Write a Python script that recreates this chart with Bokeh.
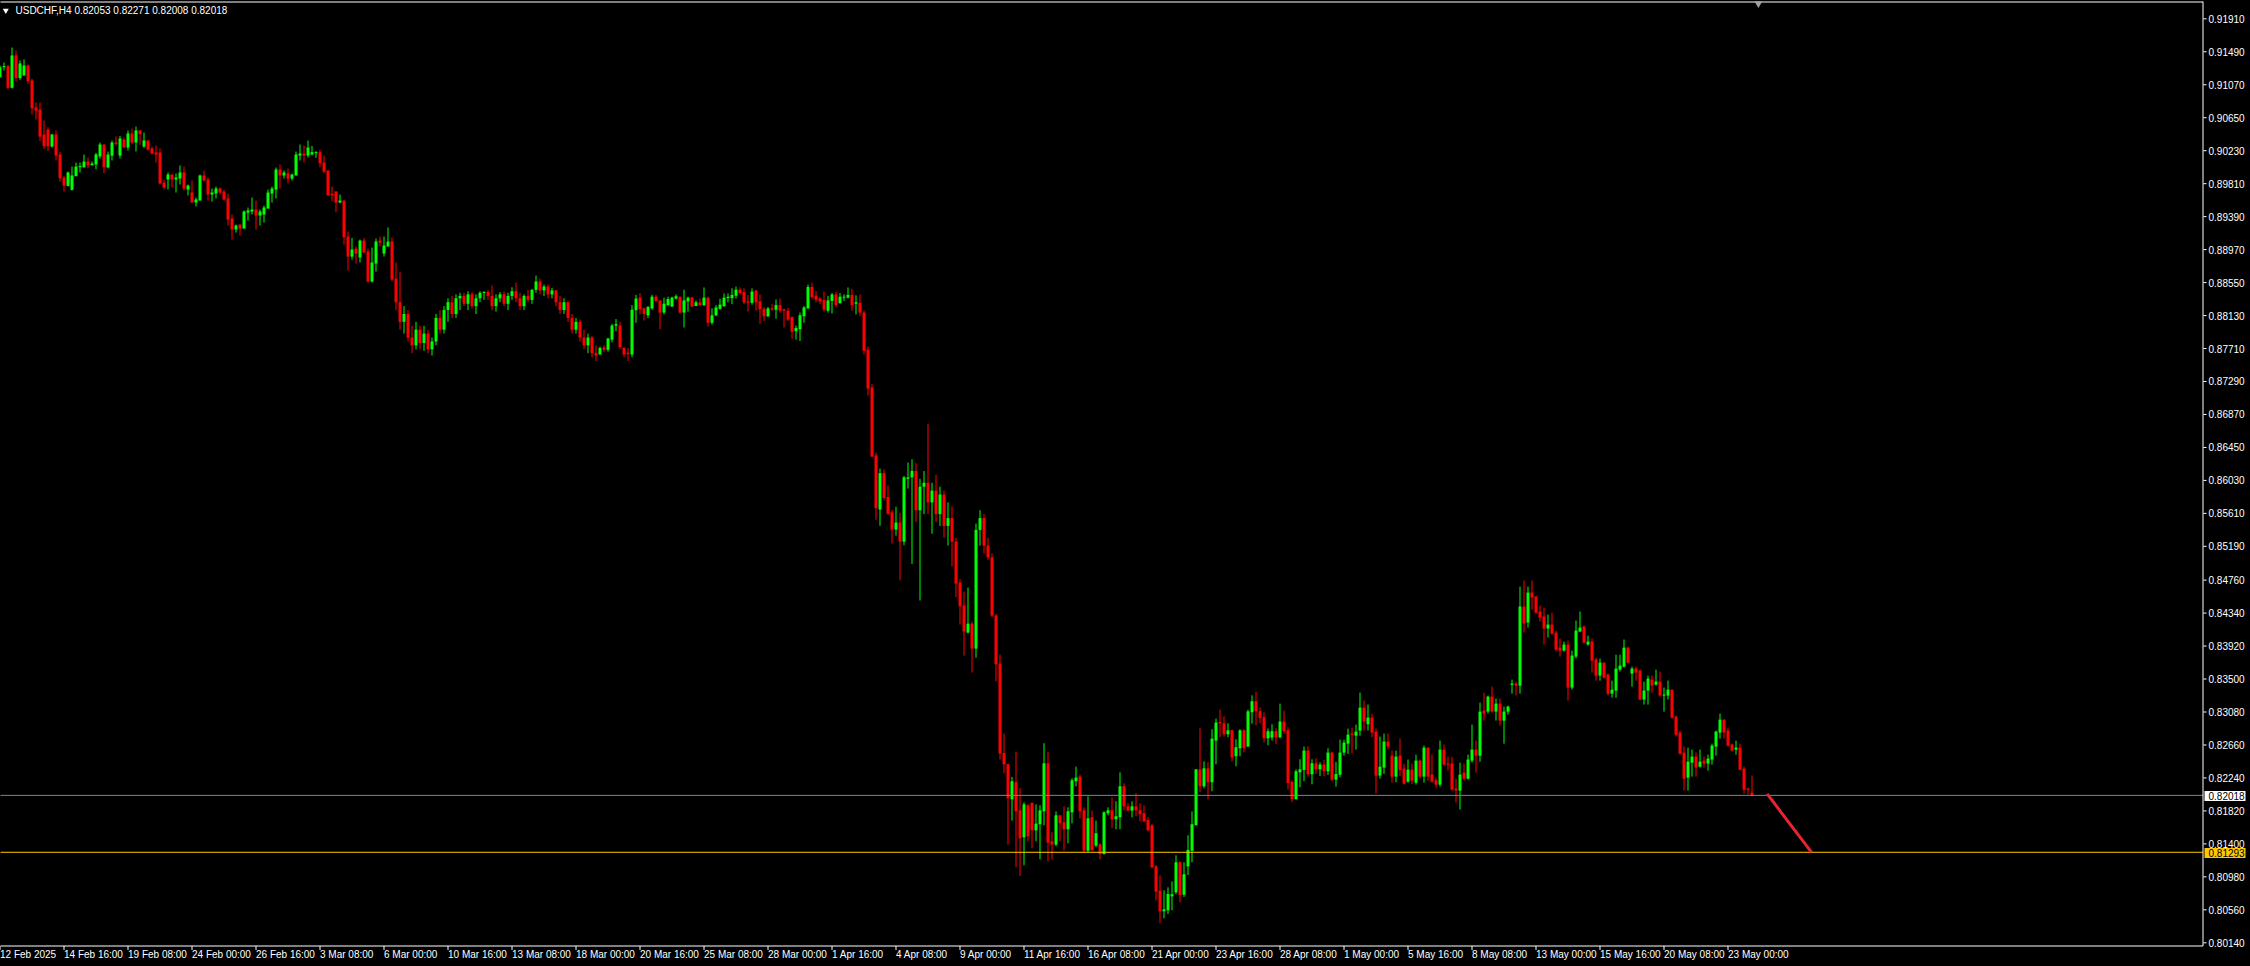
import numpy as np
from bokeh.plotting import figure
from bokeh.models import ColumnDataSource
from bokeh.embed import file_html
from bokeh.resources import INLINE
from bokeh.core.properties import value

symbol = "USDCHF,H4"

opens = [
0.91166,0.91294,0.91307,0.91031,0.91443,0.91154,0.91188,0.91315,0.91124,0.90780,
0.90754,0.90436,0.90500,0.90283,0.90436,0.90181,0.89888,0.89782,0.89731,0.89905,
0.90020,0.90020,0.90092,0.90045,0.90054,0.90156,0.90309,0.90016,0.90168,0.90334,
0.90168,0.90372,0.90270,0.90449,0.90334,0.90487,0.90283,0.90360,0.90258,0.90207,
0.90207,0.89824,0.89863,0.89926,0.89863,0.89875,0.89952,0.89735,0.89697,0.89570,
0.89595,0.89914,0.89863,0.89672,0.89684,0.89748,0.89710,0.89621,0.89366,0.89226,
0.89289,0.89238,0.89442,0.89455,0.89480,0.89404,0.89417,0.89493,0.89684,0.89735,
0.89990,0.89914,0.89939,0.89875,0.89914,0.90168,0.90194,0.90168,0.90181,0.90198,
0.90211,0.90079,0.89977,0.89680,0.89710,0.89570,0.89595,0.89136,0.88881,0.88983,
0.88869,0.89085,0.88945,0.88563,0.88792,0.89085,0.88920,0.89009,0.89073,0.88600,
0.88300,0.88050,0.88150,0.87850,0.87750,0.87950,0.87780,0.87900,0.87700,0.87800,
0.88100,0.87950,0.88200,0.88300,0.88150,0.88350,0.88380,0.88280,0.88400,0.88250,
0.88350,0.88420,0.88430,0.88380,0.88250,0.88350,0.88400,0.88280,0.88380,0.88440,
0.88350,0.88250,0.88380,0.88330,0.88457,0.88563,0.88450,0.88499,0.88400,0.88450,
0.88300,0.88200,0.88300,0.88100,0.87950,0.88050,0.87850,0.87750,0.87850,0.87650,
0.87634,0.87723,0.87694,0.87824,0.88002,0.88002,0.87717,0.87658,0.87634,0.88198,
0.88358,0.88221,0.88133,0.88221,0.88370,0.88322,0.88168,0.88263,0.88245,0.88346,
0.88370,0.88168,0.88310,0.88358,0.88251,0.88299,0.88263,0.88358,0.88038,0.88133,
0.88216,0.88251,0.88352,0.88352,0.88382,0.88459,0.88429,0.88310,0.88293,0.88447,
0.88310,0.88216,0.88121,0.88221,0.88204,0.88263,0.88210,0.88192,0.88109,0.87931,
0.87955,0.88121,0.88221,0.88494,0.88382,0.88346,0.88328,0.88192,0.88316,0.88399,
0.88287,0.88358,0.88358,0.88393,0.88281,0.88293,0.88168,0.87694,0.87213,0.86347,
0.85659,0.86122,0.85819,0.85624,0.85404,0.85493,0.85250,0.86051,0.86069,0.86150,
0.85650,0.85950,0.86000,0.85750,0.85900,0.85600,0.85850,0.85450,0.85550,0.85250,
0.84729,0.84436,0.84092,0.84206,0.83888,0.85400,0.85550,0.85200,0.85050,0.84308,
0.83697,0.82558,0.82414,0.81968,0.82185,0.81828,0.81484,0.81892,0.81921,0.81573,
0.81650,0.81815,0.82427,0.81433,0.81391,0.81764,0.81675,0.81586,0.81802,0.82198,
0.82257,0.81828,0.81314,0.81739,0.81378,0.81391,0.81272,0.81790,0.81828,0.81713,
0.81739,0.82134,0.81879,0.81824,0.81879,0.81828,0.81790,0.81705,0.81637,0.81114,
0.80805,0.80541,0.80554,0.80732,0.80783,0.81166,0.80753,0.81114,0.81314,0.81637,
0.82350,0.82134,0.82363,0.82185,0.82716,0.82953,0.82936,0.82796,0.82847,0.82516,
0.82618,0.82847,0.82639,0.83077,0.83217,0.83089,0.83013,0.82745,0.82754,0.82835,
0.82758,0.82958,0.82847,0.82189,0.81968,0.82312,0.82342,0.82588,0.82287,0.82427,
0.82350,0.82410,0.82325,0.82563,0.82219,0.82282,0.82563,0.82677,0.82805,0.82779,
0.82843,0.83136,0.82924,0.83009,0.82830,0.82270,0.82372,0.82703,0.82524,0.82257,
0.82524,0.82359,0.82193,0.82346,0.82180,0.82461,0.82257,0.82626,0.82282,0.82210,
0.82155,0.82601,0.82423,0.82423,0.82104,0.82079,0.82308,0.82231,0.82461,0.82601,
0.82524,0.83098,0.83085,0.83276,0.83085,0.83187,0.82970,0.83085,0.83425,0.83442,
0.83416,0.84423,0.84219,0.84601,0.84550,0.84359,0.84296,0.84143,0.84194,0.84092,
0.83900,0.83862,0.83939,0.83391,0.83786,0.84104,0.84168,0.83939,0.83977,0.83748,
0.83544,0.83709,0.83557,0.83314,0.83353,0.83620,0.83658,0.83900,0.83569,0.83633,
0.83608,0.83238,0.83353,0.83493,0.83429,0.83467,0.83289,0.83289,0.83365,0.83021,
0.82818,0.82563,0.82244,0.82435,0.82512,0.82384,0.82461,0.82423,0.82474,0.82639,
0.82818,0.82983,0.82843,0.82665,0.82601,0.82626,0.82359,0.82104,0.82053]

highs = [
0.91315,0.91353,0.91324,0.91544,0.91506,0.91379,0.91392,0.91328,0.91145,0.90844,
0.90844,0.90614,0.90529,0.90444,0.90487,0.90215,0.89909,0.89965,0.90028,0.90079,
0.90079,0.90181,0.90143,0.90092,0.90202,0.90334,0.90309,0.90219,0.90360,0.90410,
0.90419,0.90398,0.90487,0.90512,0.90538,0.90495,0.90461,0.90360,0.90283,0.90296,
0.90258,0.89863,0.89952,0.89926,0.89939,0.90041,0.90028,0.89799,0.89850,0.89633,
0.89926,0.89977,0.89888,0.89748,0.89773,0.89761,0.89735,0.89684,0.89417,0.89289,
0.89289,0.89468,0.89506,0.89633,0.89595,0.89480,0.89531,0.89735,0.89773,0.90016,
0.90054,0.89977,0.90003,0.89939,0.90219,0.90309,0.90296,0.90360,0.90290,0.90224,
0.90240,0.90168,0.89977,0.89773,0.89710,0.89671,0.89595,0.89200,0.89119,0.89009,
0.89098,0.89119,0.88983,0.88996,0.89111,0.89136,0.89136,0.89251,0.89124,0.88805,
0.88690,0.88250,0.88200,0.88000,0.88050,0.88000,0.88000,0.87950,0.87850,0.88150,
0.88200,0.88250,0.88350,0.88380,0.88400,0.88420,0.88420,0.88440,0.88430,0.88400,
0.88440,0.88440,0.88457,0.88512,0.88400,0.88430,0.88440,0.88420,0.88491,0.88550,
0.88420,0.88400,0.88457,0.88470,0.88639,0.88601,0.88525,0.88525,0.88480,0.88457,
0.88380,0.88350,0.88320,0.88150,0.88100,0.88080,0.87950,0.87900,0.87870,0.87750,
0.87735,0.87753,0.87848,0.88026,0.88085,0.88049,0.87729,0.87717,0.88263,0.88393,
0.88417,0.88233,0.88251,0.88393,0.88393,0.88322,0.88358,0.88370,0.88370,0.88399,
0.88370,0.88459,0.88370,0.88370,0.88322,0.88346,0.88488,0.88370,0.88221,0.88263,
0.88346,0.88411,0.88411,0.88477,0.88500,0.88488,0.88477,0.88393,0.88477,0.88459,
0.88399,0.88239,0.88239,0.88275,0.88334,0.88346,0.88216,0.88227,0.88121,0.88002,
0.88168,0.88251,0.88524,0.88548,0.88441,0.88364,0.88435,0.88382,0.88417,0.88429,
0.88417,0.88399,0.88488,0.88471,0.88387,0.88399,0.88192,0.87735,0.87261,0.86383,
0.86181,0.86169,0.85968,0.85653,0.85695,0.85618,0.86086,0.86258,0.86300,0.86250,
0.86050,0.86150,0.86750,0.86000,0.86100,0.85950,0.85900,0.85750,0.85700,0.85300,
0.84775,0.84614,0.84665,0.84232,0.85480,0.85650,0.85600,0.85300,0.85100,0.84329,
0.83811,0.82805,0.82423,0.82253,0.82576,0.82113,0.81930,0.81904,0.81930,0.81904,
0.81892,0.82682,0.82576,0.81548,0.81815,0.81764,0.81879,0.81866,0.82236,0.82384,
0.82282,0.81866,0.82006,0.81824,0.81696,0.81408,0.81815,0.81866,0.81994,0.81943,
0.82312,0.82172,0.81917,0.81943,0.82045,0.81917,0.81892,0.81739,0.81654,0.81131,
0.80999,0.80809,0.80847,0.80923,0.81255,0.81178,0.81166,0.81510,0.81815,0.82350,
0.82873,0.82452,0.82440,0.82860,0.82996,0.83111,0.83026,0.82936,0.82856,0.82733,
0.82860,0.82860,0.83111,0.83293,0.83340,0.83140,0.83077,0.82869,0.82924,0.82873,
0.83187,0.83098,0.82886,0.82210,0.82350,0.82478,0.82639,0.82643,0.82478,0.82490,
0.82440,0.82469,0.82618,0.82576,0.82444,0.82728,0.82728,0.82869,0.82881,0.82919,
0.83327,0.83225,0.83174,0.83060,0.82869,0.82767,0.82805,0.82805,0.82588,0.82588,
0.82741,0.82418,0.82474,0.82423,0.82537,0.82474,0.82652,0.82626,0.82537,0.82244,
0.82716,0.82665,0.82512,0.82512,0.82231,0.82435,0.82423,0.82537,0.82919,0.82716,
0.83200,0.83327,0.83289,0.83404,0.83251,0.83251,0.83149,0.83162,0.83493,0.83467,
0.84678,0.84754,0.84678,0.84754,0.84563,0.84436,0.84410,0.84321,0.84346,0.84117,
0.84015,0.83977,0.83990,0.83862,0.84245,0.84359,0.84181,0.84053,0.84015,0.83773,
0.83760,0.83709,0.83569,0.83480,0.83811,0.83811,0.84003,0.83913,0.83658,0.83658,
0.83620,0.83467,0.83544,0.83544,0.83620,0.83595,0.83391,0.83480,0.83365,0.83034,
0.82843,0.82639,0.82626,0.82601,0.82563,0.82601,0.82512,0.82537,0.82677,0.82843,
0.83060,0.82983,0.82881,0.82677,0.82716,0.82677,0.82384,0.82117,0.82271]

lows = [
0.91166,0.91251,0.91009,0.91022,0.91116,0.91132,0.91188,0.91082,0.90691,0.90627,
0.90351,0.90253,0.90224,0.90270,0.90105,0.89837,0.89710,0.89773,0.89722,0.89905,
0.89952,0.90011,0.90007,0.90041,0.89994,0.90130,0.89943,0.90003,0.90105,0.90296,
0.90130,0.90266,0.90232,0.90317,0.90219,0.90304,0.90266,0.90232,0.90181,0.90079,
0.89799,0.89735,0.89735,0.89761,0.89697,0.89799,0.89722,0.89659,0.89570,0.89519,
0.89595,0.89837,0.89595,0.89582,0.89621,0.89672,0.89595,0.89277,0.89098,0.89187,
0.89149,0.89238,0.89340,0.89417,0.89226,0.89277,0.89315,0.89493,0.89570,0.89621,
0.89748,0.89875,0.89812,0.89850,0.89914,0.90105,0.90079,0.90143,0.90170,0.90139,
0.90020,0.89943,0.89659,0.89587,0.89446,0.89561,0.89034,0.88703,0.88843,0.88792,
0.88805,0.88932,0.88550,0.88550,0.88690,0.89009,0.88881,0.89009,0.88563,0.88200,
0.87950,0.87900,0.87800,0.87650,0.87700,0.87700,0.87680,0.87650,0.87620,0.87750,
0.87900,0.87900,0.88050,0.88100,0.88100,0.88200,0.88250,0.88200,0.88220,0.88150,
0.88300,0.88330,0.88330,0.88200,0.88180,0.88300,0.88250,0.88200,0.88330,0.88300,
0.88200,0.88200,0.88300,0.88280,0.88420,0.88400,0.88380,0.88350,0.88350,0.88250,
0.88150,0.88150,0.88050,0.87900,0.87900,0.87800,0.87700,0.87650,0.87600,0.87550,
0.87634,0.87664,0.87670,0.87789,0.87931,0.87705,0.87599,0.87551,0.87599,0.88038,
0.88144,0.88067,0.88097,0.88204,0.88299,0.87955,0.88144,0.88251,0.88239,0.88334,
0.88156,0.87978,0.88180,0.88239,0.88251,0.88251,0.88251,0.87990,0.88014,0.88121,
0.88204,0.88239,0.88299,0.88275,0.88346,0.88393,0.88275,0.88180,0.88269,0.88192,
0.88026,0.88061,0.88109,0.88192,0.88091,0.88168,0.87978,0.88061,0.87836,0.87824,
0.87806,0.88038,0.88216,0.88346,0.88299,0.88275,0.88180,0.88168,0.88156,0.88239,
0.88281,0.88316,0.88346,0.88192,0.88144,0.88121,0.87634,0.87112,0.86329,0.85529,
0.85452,0.85778,0.85588,0.85226,0.85327,0.84758,0.85203,0.85926,0.84967,0.85500,
0.84500,0.85600,0.85600,0.85350,0.85500,0.85450,0.85300,0.85200,0.84933,0.84542,
0.84194,0.83799,0.84079,0.83582,0.83773,0.85200,0.85100,0.85020,0.84290,0.83472,
0.82474,0.82299,0.81391,0.81696,0.81102,0.80991,0.81127,0.81433,0.81344,0.81433,
0.81204,0.81637,0.81178,0.81199,0.81369,0.81433,0.81318,0.81408,0.81662,0.82134,
0.81726,0.81293,0.81293,0.81314,0.81357,0.81204,0.81263,0.81764,0.81603,0.81586,
0.81586,0.81828,0.81815,0.81739,0.81752,0.81688,0.81675,0.81560,0.81089,0.80681,
0.80388,0.80452,0.80507,0.80554,0.80758,0.80656,0.80724,0.81004,0.81166,0.81637,
0.82057,0.82108,0.81968,0.82070,0.82414,0.82758,0.82767,0.82758,0.82452,0.82389,
0.82516,0.82567,0.82639,0.82932,0.82911,0.82936,0.82694,0.82656,0.82716,0.82669,
0.82745,0.82805,0.82096,0.81930,0.81968,0.82121,0.82198,0.82257,0.82159,0.82291,
0.82265,0.82261,0.82278,0.82198,0.82130,0.82248,0.82524,0.82546,0.82550,0.82601,
0.82779,0.82843,0.82843,0.82758,0.82040,0.82231,0.82291,0.82605,0.82180,0.82185,
0.82265,0.82155,0.82180,0.82163,0.82155,0.82231,0.82180,0.82206,0.82180,0.82117,
0.82130,0.82397,0.82333,0.82079,0.81926,0.81837,0.82206,0.82219,0.82435,0.82308,
0.82448,0.82970,0.83060,0.83072,0.82970,0.82907,0.82677,0.83047,0.83314,0.83289,
0.83314,0.84092,0.84155,0.84385,0.84334,0.84232,0.83939,0.84028,0.84066,0.83850,
0.83786,0.83850,0.83225,0.83365,0.83760,0.84104,0.83952,0.83926,0.83582,0.83480,
0.83480,0.83506,0.83289,0.83263,0.83263,0.83595,0.83646,0.83697,0.83404,0.83480,
0.83238,0.83174,0.83174,0.83327,0.83416,0.83276,0.83085,0.83238,0.82996,0.82767,
0.82537,0.82079,0.82079,0.82257,0.82257,0.82372,0.82372,0.82333,0.82410,0.82524,
0.82741,0.82741,0.82639,0.82576,0.82537,0.82346,0.82040,0.82028,0.82008]

closes = [
0.91294,0.91307,0.91031,0.91443,0.91154,0.91341,0.91315,0.91116,0.90771,0.90742,
0.90410,0.90287,0.90287,0.90436,0.90168,0.89880,0.89786,0.89952,0.89914,0.90028,
0.90033,0.90092,0.90041,0.90066,0.90181,0.90309,0.90020,0.90181,0.90334,0.90317,
0.90385,0.90270,0.90449,0.90334,0.90487,0.90440,0.90360,0.90245,0.90194,0.90181,
0.89812,0.89761,0.89926,0.89863,0.89888,0.89952,0.89748,0.89786,0.89570,0.89608,
0.89914,0.89850,0.89672,0.89697,0.89748,0.89697,0.89608,0.89353,0.89226,0.89277,
0.89238,0.89455,0.89468,0.89480,0.89404,0.89455,0.89506,0.89697,0.89748,0.89990,
0.89914,0.89952,0.89875,0.89926,0.90181,0.90194,0.90168,0.90270,0.90211,0.90211,
0.90071,0.89964,0.89659,0.89663,0.89570,0.89595,0.89128,0.88881,0.88971,0.88920,
0.89085,0.88932,0.88563,0.88805,0.89073,0.89060,0.89022,0.89073,0.88588,0.88300,
0.88050,0.88150,0.87850,0.87750,0.87950,0.87780,0.87900,0.87700,0.87800,0.88100,
0.87950,0.88200,0.88300,0.88150,0.88350,0.88380,0.88280,0.88400,0.88250,0.88350,
0.88420,0.88430,0.88380,0.88250,0.88350,0.88400,0.88280,0.88380,0.88440,0.88350,
0.88250,0.88380,0.88330,0.88457,0.88563,0.88450,0.88499,0.88400,0.88450,0.88300,
0.88200,0.88300,0.88100,0.87950,0.88050,0.87850,0.87750,0.87850,0.87650,0.87620,
0.87717,0.87694,0.87836,0.88002,0.88020,0.87729,0.87634,0.87640,0.88204,0.88346,
0.88210,0.88150,0.88239,0.88370,0.88316,0.88168,0.88281,0.88340,0.88358,0.88376,
0.88168,0.88322,0.88358,0.88245,0.88299,0.88263,0.88358,0.88038,0.88133,0.88233,
0.88269,0.88358,0.88370,0.88393,0.88459,0.88417,0.88299,0.88293,0.88435,0.88299,
0.88210,0.88121,0.88221,0.88204,0.88263,0.88192,0.88192,0.88079,0.87925,0.87972,
0.88133,0.88233,0.88494,0.88364,0.88334,0.88310,0.88204,0.88322,0.88399,0.88263,
0.88370,0.88370,0.88393,0.88263,0.88299,0.88168,0.87682,0.87201,0.86335,0.85677,
0.86122,0.85807,0.85606,0.85404,0.85493,0.85250,0.86069,0.86069,0.86150,0.85650,
0.85950,0.86000,0.85750,0.85900,0.85600,0.85850,0.85450,0.85550,0.85250,0.84716,
0.84427,0.84104,0.84206,0.83888,0.85400,0.85550,0.85200,0.85050,0.84308,0.83688,
0.82550,0.82414,0.81981,0.82198,0.81815,0.81471,0.81904,0.81497,0.81573,0.81658,
0.81828,0.82427,0.81416,0.81391,0.81764,0.81662,0.81586,0.81815,0.82210,0.82244,
0.81815,0.81314,0.81726,0.81318,0.81535,0.81272,0.81802,0.81828,0.81713,0.81752,
0.82134,0.81879,0.81824,0.81879,0.81828,0.81777,0.81688,0.81573,0.81102,0.80792,
0.80541,0.80567,0.80762,0.80758,0.81166,0.80749,0.81013,0.81323,0.81650,0.82350,
0.82134,0.82363,0.82185,0.82741,0.82945,0.82936,0.82796,0.82847,0.82503,0.82631,
0.82847,0.82618,0.83089,0.83217,0.83089,0.83004,0.82745,0.82835,0.82835,0.82754,
0.82958,0.82835,0.82176,0.81968,0.82325,0.82350,0.82588,0.82287,0.82427,0.82350,
0.82410,0.82325,0.82563,0.82219,0.82291,0.82563,0.82690,0.82792,0.82788,0.82830,
0.83136,0.82958,0.83009,0.82818,0.82270,0.82384,0.82703,0.82639,0.82257,0.82512,
0.82342,0.82168,0.82346,0.82206,0.82461,0.82257,0.82626,0.82257,0.82193,0.82155,
0.82601,0.82410,0.82410,0.82091,0.82079,0.82282,0.82231,0.82474,0.82601,0.82524,
0.83085,0.83060,0.83276,0.83085,0.83187,0.82970,0.83085,0.83149,0.83442,0.83416,
0.84423,0.84206,0.84601,0.84538,0.84346,0.84283,0.84143,0.84194,0.84079,0.83875,
0.83862,0.83939,0.83391,0.83799,0.84117,0.84155,0.83964,0.83977,0.83735,0.83544,
0.83709,0.83518,0.83314,0.83365,0.83633,0.83671,0.83900,0.83709,0.83633,0.83582,
0.83238,0.83353,0.83506,0.83416,0.83467,0.83289,0.83302,0.83365,0.83009,0.82792,
0.82550,0.82231,0.82448,0.82512,0.82372,0.82448,0.82423,0.82486,0.82652,0.82830,
0.82983,0.82818,0.82652,0.82588,0.82626,0.82346,0.82091,0.82091,0.82018]

date_labels = ["12 Feb 2025", "14 Feb 16:00", "19 Feb 08:00", "24 Feb 00:00",
               "26 Feb 16:00", "3 Mar 08:00", "6 Mar 00:00", "10 Mar 16:00",
               "13 Mar 08:00", "18 Mar 00:00", "20 Mar 16:00", "25 Mar 08:00",
               "28 Mar 00:00", "1 Apr 16:00", "4 Apr 08:00", "9 Apr 00:00",
               "11 Apr 16:00", "16 Apr 08:00", "21 Apr 00:00", "23 Apr 16:00",
               "28 Apr 08:00", "1 May 00:00", "5 May 16:00", "8 May 08:00",
               "13 May 00:00", "15 May 16:00", "20 May 08:00", "23 May 00:00"]
bars_per_label = 16

price_ticks = [0.91910, 0.91490, 0.91070, 0.90650, 0.90230, 0.89810, 0.89390,
               0.88970, 0.88550, 0.88130, 0.87710, 0.87290, 0.86870, 0.86450,
               0.86030, 0.85610, 0.85190, 0.84760, 0.84340, 0.83920, 0.83500,
               0.83080, 0.82660, 0.82240, 0.81820, 0.81400, 0.80980, 0.80560,
               0.80140]

level_price = 0.81293          # yellow horizontal line
trend_x = [441.8, 452.9]       # red trend line (bar index)
trend_y = [0.82036, 0.81293]
shift_marker_bar = 439.6

# ---------------------------------------------------------------- layout helpers
FONT = value("Liberation Sans")
FS = "10px"
GREEN, RED = "#00ff00", "#ff0000"
BAR_PX = 4.0                    # pixels per bar
PRICE_PER_PX = 0.00012738       # price units per pixel
REF_PRICE, REF_PX = 0.91910, 18.3
OFF = 8                          # figure is shifted by the page margin

def bx(px):      # page x pixel -> bar index
    return (px + 0.5) / BAR_PX

def py(pp):      # page y pixel -> price
    return REF_PRICE - (pp - REF_PX) * PRICE_PER_PX

W, H = 2250 + OFF, 966 + OFF
FRAME_R, FRAME_B = 2202.5, 945.5

o = np.array(opens); h = np.array(highs); l = np.array(lows); c = np.array(closes)
idx = np.arange(len(o))
colors = np.where(c >= o, GREEN, RED)
top = np.maximum(o, c)
bot = np.minimum(o, c)
min_body = 0.00012
thin = (top - bot) < min_body
mid = (top + bot) / 2
top = np.where(thin, mid + min_body / 2, top)
bot = np.where(thin, mid - min_body / 2, bot)
src = ColumnDataSource(dict(x=idx, h=h, l=l, top=top, bot=bot, color=colors))

p = figure(width=W, height=H, x_range=(bx(-OFF), bx(2250)), y_range=(py(966), py(-OFF)),
           output_backend="svg", toolbar_location=None,
           x_axis_location=None, y_axis_location=None,
           background_fill_color="black", border_fill_color="black",
           min_border_left=0, min_border_right=0, min_border_top=0, min_border_bottom=0)
p.margin = (-OFF, -OFF, -OFF, -OFF)
p.grid.visible = False
p.outline_line_color = None

# candles
p.segment(x0="x", y0="l", x1="x", y1="h", line_color="color", line_width=1, source=src)
p.vbar(x="x", width=0.75, top="top", bottom="bot", fill_color="color",
       line_color=None, source=src)

# price lines
p.segment(x0=[bx(0)], y0=[closes[-1]], x1=[bx(FRAME_R)], y1=[closes[-1]],
          line_color="#778899", line_width=1)
p.segment(x0=[bx(0)], y0=[level_price], x1=[bx(FRAME_R)], y1=[level_price],
          line_color="#ffc800", line_width=1)

# trend line
p.line(trend_x, trend_y, line_color="#e52630", line_width=3)

# frame borders
p.segment(x0=[bx(0), bx(FRAME_R), bx(0)], y0=[py(1.5), py(1), py(FRAME_B)],
          x1=[bx(FRAME_R), bx(FRAME_R), bx(FRAME_R)], y1=[py(1.5), py(FRAME_B), py(FRAME_B)],
          line_color="white", line_width=1)

# price scale
p.segment(x0=[bx(2203)] * len(price_ticks), y0=price_ticks,
          x1=[bx(2206)] * len(price_ticks), y1=price_ticks, line_color="white", line_width=1)
p.text(x=[bx(2208)] * len(price_ticks), y=price_ticks,
       text=[f"{v:.5f}" for v in price_ticks], text_color="white", text_font=FONT,
       text_font_size=FS, text_align="left", text_baseline="middle")

# time scale
tick_pos = [k * bars_per_label for k in range(len(date_labels))]
p.segment(x0=tick_pos, y0=[py(FRAME_B)] * len(tick_pos), x1=tick_pos,
          y1=[py(949.5)] * len(tick_pos), line_color="white", line_width=1)
p.text(x=tick_pos, y=[py(953.8)] * len(tick_pos), text=date_labels, text_color="white",
       text_font=FONT, text_font_size=FS, text_align="left", text_baseline="middle")

# price tags on the scale
tags = [closes[-1], level_price]
tag_fill = ["white", "#ffc800"]
half = 5 * PRICE_PER_PX
p.quad(left=[bx(2204)] * 2, right=[bx(2245)] * 2,
       top=[t + half - 0.7 * PRICE_PER_PX for t in tags],
       bottom=[t - half - 0.7 * PRICE_PER_PX for t in tags],
       fill_color=tag_fill, line_color=None)
p.text(x=[bx(2208)] * 2, y=[t - 0.7 * PRICE_PER_PX for t in tags],
       text=[f"{t:.5f}" for t in tags], text_color="black", text_font=FONT,
       text_font_size=FS, text_align="left", text_baseline="middle")

# header
p.scatter([bx(5.3)], [py(10)], marker="inverted_triangle", size=6,
          fill_color="white", line_color=None)
header = f"{symbol}  {opens[-1]:.5f} {highs[-1]:.5f} {lows[-1]:.5f} {closes[-1]:.5f}"
p.text(x=[bx(15)], y=[py(9.8)], text=[header], text_color="white", text_font=FONT,
       text_font_size=FS, text_align="left", text_baseline="middle")

# chart shift marker
p.scatter([shift_marker_bar], [py(3)], marker="inverted_triangle", size=8,
          fill_color="#a0a0a0", line_color=None)

open("out.html", "w").write(file_html(p, INLINE))
